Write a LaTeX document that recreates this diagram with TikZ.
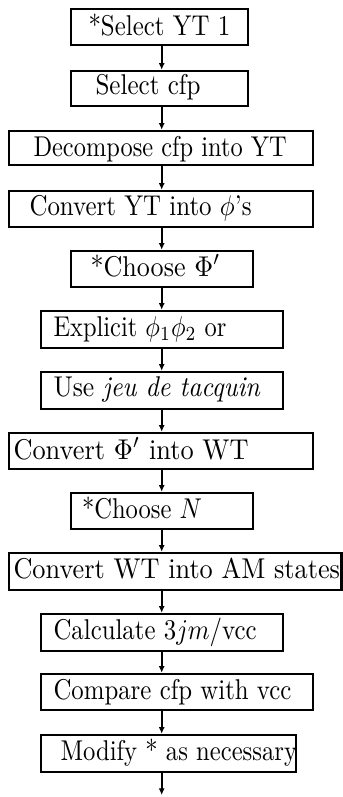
\documentclass[tikz,border=0pt]{standalone}
\usetikzlibrary{arrows.meta,fit}
\newcommand{\fitt}[2]{\resizebox{#1pt}{1.1\height}{#2}}
\begin{document}
\begin{tikzpicture}[x=0.3846pt,y=-0.3846pt,
  box/.style={draw,line width=0.95pt,inner sep=0pt},
  lbl/.style={anchor=base west,inner sep=0pt,font=\fontsize{10}{12}\selectfont},
  arr/.style={line width=0.8pt,-{Latex[length=2.6pt,width=2.4pt]}}]
\useasboundingbox (0,0) rectangle (343,797);
\coordinate (ax) at (161.7,0);
% boxes
\node[box,fit={(71,9) (248,45)}] (b1) {};
\node[box,fit={(71,71) (248,106)}] (b2) {};
\node[box,fit={(9,131) (313,165)}] (b3) {};
\node[box,fit={(9,191) (313,227)}] (b4) {};
\node[box,fit={(71,251) (253,287)}] (b5) {};
\node[box,fit={(41,311) (283,348)}] (b6) {};
\node[box,fit={(41,372) (283,409)}] (b7) {};
\node[box,fit={(9,433) (313,469)}] (b8) {};
\node[box,fit={(71,493) (253,529)}] (b9) {};
\node[box,fit={(9,553) (341.5,590)}] (b10) {};
\node[box,fit={(41,614) (283,651)}] (b11) {};
\node[box,fit={(41,674) (313,710)}] (b12) {};
\node[box,fit={(41,735) (296,772)}] (b13) {};
\coordinate (end) at (161.7,795);
% texts
\node[lbl] (t1) at (88,35) {\fitt{54.5}{*Select YT 1}};
\node[lbl] (t2) at (95,94.5) {\fitt{40.4}{Select cfp}};
\node[lbl] (t3) at (33,156.5) {\fitt{97.4}{Decompose cfp into YT}};
\node[lbl] (t4) at (29,215) {\fitt{85.4}{Convert YT into $\phi$'s}};
\node[lbl] (t5) at (90,276) {\fitt{50.0}{*Choose $\Phi'$}};
\node[lbl] (t6) at (53,336.5) {\fitt{66.5}{Explicit $\phi_1\phi_2$ or}};
\node[lbl] (t7) at (53,396.5) {\fitt{79.6}{Use \emph{jeu de tacquin}}};
\node[lbl] (t8) at (13,459) {\fitt{90.4}{Convert $\Phi'$ into WT}};
\node[lbl] (t9) at (81.5,518) {\fitt{46.2}{*Choose $N$}};
\node[lbl] (t10) at (13,578) {\fitt{125.6}{Convert WT into AM states}};
\node[lbl] (t11) at (53,639) {\fitt{78.1}{Calculate $3jm$/vcc}};
\node[lbl] (t12) at (53,699.5) {\fitt{91.5}{Compare cfp with vcc}};
\node[lbl] (t13) at (60,760) {\fitt{91.0}{Modify * as necessary}};
% arrows
\foreach \a/\b in {b1/b2,b2/b3,b3/b4,b4/b5,b5/b6,b6/b7,b7/b8,b8/b9,b9/b10,b10/b11,b11/b12,b12/b13}
  \draw[arr] (ax |- \a.south) -- (ax |- \b.north);
\draw[arr] (ax |- b13.south) -- (end);
\end{tikzpicture}
\end{document}
